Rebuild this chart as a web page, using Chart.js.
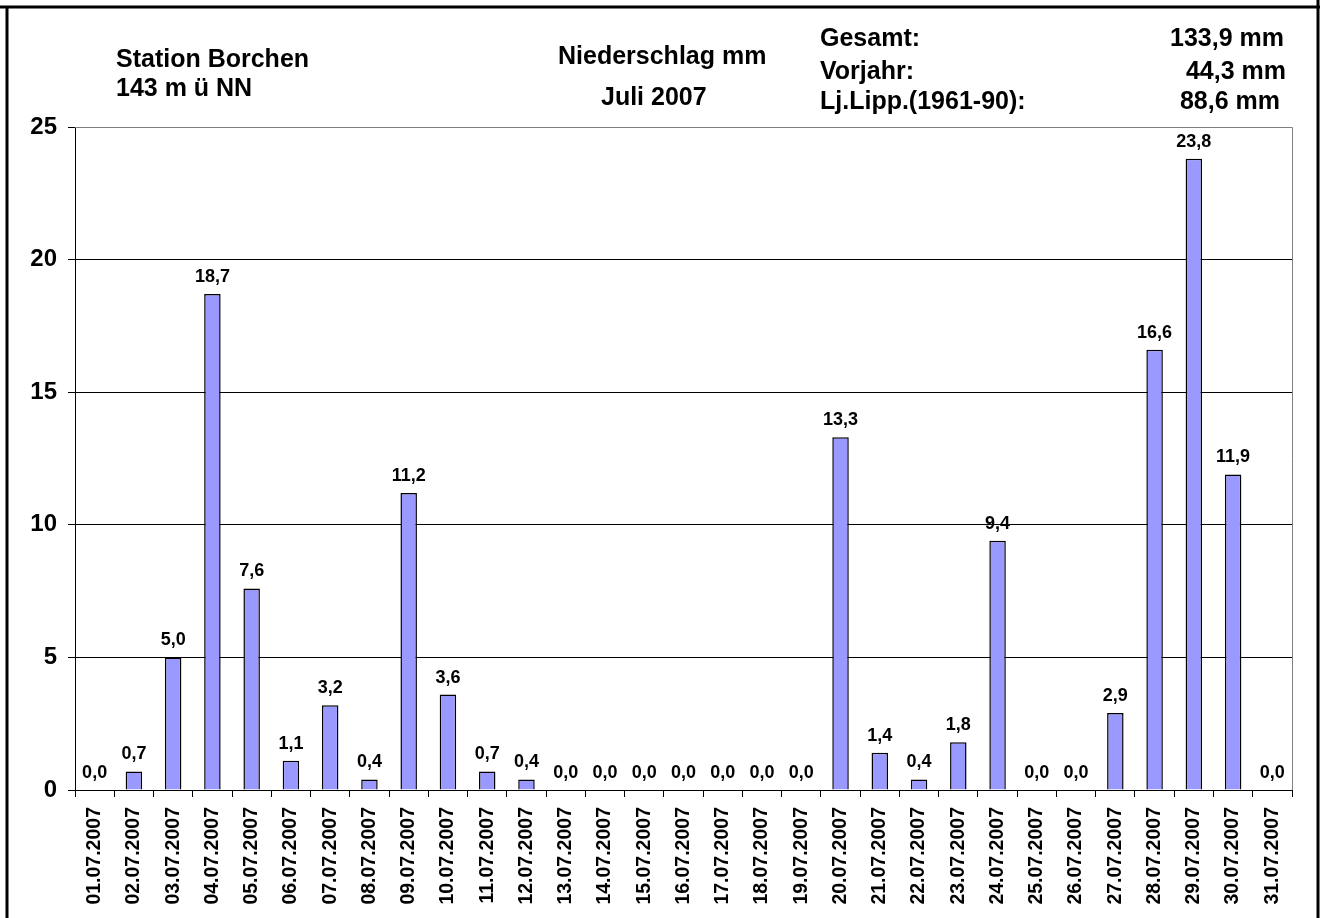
<!DOCTYPE html>
<html>
<head>
<meta charset="utf-8">
<style>
  body { margin: 0; background: #fff; }
  #wrap { position: relative; width: 1328px; height: 918px; }
  canvas { position: absolute; left: 0; top: 0; }
  .t { position: absolute; font-family: "Liberation Sans", Arial, sans-serif; font-weight: bold;
       font-size: 25px; line-height: 25px; color: #000; white-space: nowrap; }
</style>
</head>
<body>
<div id="wrap">
  <canvas id="rain" width="1328" height="918"></canvas>
  <div class="t" style="left:116px; top:46px;">Station Borchen</div>
  <div class="t" style="left:116px; top:75px;">143 m ü NN</div>
  <div class="t" style="left:558px; top:43px;">Niederschlag mm</div>
  <div class="t" style="left:601px; top:84px;">Juli 2007</div>
  <div class="t" style="left:820px; top:25px;">Gesamt:</div>
  <div class="t" style="left:820px; top:58px;">Vorjahr:</div>
  <div class="t" style="left:820px; top:88px;">Lj.Lipp.(1961-90):</div>
  <div class="t" style="right:44px; top:25px;">133,9 mm</div>
  <div class="t" style="right:42px; top:58px;">44,3 mm</div>
  <div class="t" style="right:48px; top:88px;">88,6 mm</div>
</div>

<script src="https://cdn.jsdelivr.net/npm/chart.js"></script>
<script>
const days = [
  '01.07.2007', '02.07.2007', '03.07.2007', '04.07.2007', '05.07.2007', '06.07.2007',
  '07.07.2007', '08.07.2007', '09.07.2007', '10.07.2007', '11.07.2007', '12.07.2007',
  '13.07.2007', '14.07.2007', '15.07.2007', '16.07.2007', '17.07.2007', '18.07.2007',
  '19.07.2007', '20.07.2007', '21.07.2007', '22.07.2007', '23.07.2007', '24.07.2007',
  '25.07.2007', '26.07.2007', '27.07.2007', '28.07.2007', '29.07.2007', '30.07.2007',
  '31.07.2007'
];
const rainMm = [
  0.0, 0.7, 5.0, 18.7, 7.6, 1.1, 3.2, 0.4, 11.2, 3.6, 0.7, 0.4,
  0.0, 0.0, 0.0, 0.0, 0.0, 0.0, 0.0, 13.3, 1.4, 0.4, 1.8, 9.4,
  0.0, 0.0, 2.9, 16.6, 23.8, 11.9, 0.0
];
const yTicks = [0, 5, 10, 15, 20, 25];

const fmt = v => v.toFixed(1).replace('.', ',');

// outer frame + gray top/right plot border + value labels
const extras = {
  id: 'extras',
  afterDraw(chart) {
    const ctx = chart.ctx;
    const a = chart.chartArea;
    ctx.save();
    ctx.strokeStyle = '#808080';
    ctx.lineWidth = 1;
    ctx.beginPath();
    ctx.moveTo(a.left, a.top + 0.5);
    ctx.lineTo(a.right + 0.5, a.top + 0.5);
    ctx.lineTo(a.right + 0.5, a.bottom);
    ctx.stroke();

    ctx.strokeStyle = '#000';
    ctx.lineWidth = 3;
    ctx.beginPath();
    ctx.moveTo(0, 7); ctx.lineTo(1320, 7);
    ctx.moveTo(7, 7); ctx.lineTo(7, 918);
    ctx.moveTo(1318, 0); ctx.lineTo(1318, 918);
    ctx.stroke();

    ctx.fillStyle = '#000';
    ctx.font = 'bold 18px "Liberation Sans", Arial';
    ctx.textAlign = 'center';
    ctx.textBaseline = 'alphabetic';
    chart.getDatasetMeta(0).data.forEach((bar, i) => {
      ctx.fillText(fmt(rainMm[i]), bar.x, bar.y - 12);
    });
    ctx.restore();
  }
};

new Chart(document.getElementById('rain'), {
  type: 'bar',
  data: {
    labels: days,
    datasets: [{
      data: rainMm,
      backgroundColor: '#9999FF',
      borderColor: '#000',
      borderWidth: 1.5,
      barPercentage: 0.42,
      categoryPercentage: 1.0
    }]
  },
  options: {
    responsive: false,
    animation: false,
    layout: { padding: { left: 0, top: 127, right: 36, bottom: 0 } },
    plugins: { legend: { display: false }, tooltip: { enabled: false } },
    scales: {
      x: {
        afterFit: s => { s.height = 128; },
        border: { color: '#000', width: 1 },
        grid: { drawOnChartArea: false, drawTicks: true, tickLength: 7, tickColor: '#000', offset: true },
        ticks: {
          autoSkip: false, minRotation: 90, maxRotation: 90, padding: 10,
          color: '#000', font: { family: '"Liberation Sans", Arial', size: 19.5, weight: 'bold' }
        }
      },
      y: {
        min: 0, max: 25,
        afterFit: s => { s.width = 75; },
        afterBuildTicks: s => { s.ticks = yTicks.map(v => ({ value: v })); },
        border: { color: '#000', width: 1 },
        grid: {
          color: c => (c.tick && c.tick.value === 25 ? '#808080' : '#000'),
          lineWidth: 1, tickLength: 7, tickColor: '#000'
        },
        ticks: {
          padding: 11, color: '#000',
          font: { family: '"Liberation Sans", Arial', size: 24, weight: 'bold' }
        }
      }
    }
  },
  plugins: [extras]
});
</script>
</body>
</html>
